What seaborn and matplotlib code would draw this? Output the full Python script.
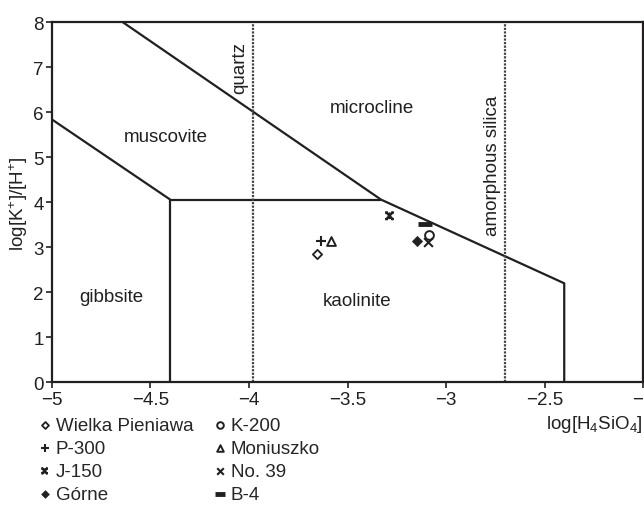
import matplotlib
matplotlib.use("Agg")
import matplotlib.pyplot as plt
from matplotlib.path import Path
import seaborn as sns
import pandas as pd

# muestras: log[H4SiO4], log[K+]/[H+]
muestras = ['Wielka Pieniawa', 'P-300', 'J-150', 'Górne', 'K-200', 'Moniuszko', 'No. 39', 'B-4']
log_si = [-3.653, -3.633, -3.287, -3.146, -3.088, -3.582, -3.093, -3.106]
log_k = [2.84, 3.13, 3.70, 3.13, 3.27, 3.15, 3.12, 3.52]

# límites de estabilidad
gib_kao_x = [-4.4, -4.4]
gib_kao_y = [0, 4.06]
mus_kao_x = [-4.4, -3.33]
mus_kao_y = [4.06, 4.06]
gib_mus_x = [-5.0, -4.4]
gib_mus_y = [5.84, 4.06]
mus_mic_x = [-4.64, -3.33]
mus_mic_y = [8.0, 4.06]
kao_mic_x = [-3.33, -2.40, -2.40]
kao_mic_y = [4.06, 2.2, 0.0]
cuarzo = -3.98
silice_amorfa = -2.70

minerales = ['muscovite', 'microcline', 'gibbsite', 'kaolinite']
min_x = [-4.42, -3.376, -4.70, -3.45]
min_y = [5.47, 6.11, 1.90, 1.81]

df = pd.DataFrame({'muestra': muestras, 'x': log_si, 'y': log_k})

sns.set_style('white')
plt.rcParams['font.family'] = ['Liberation Sans', 'DejaVu Sans']
plt.rcParams['mathtext.fontset'] = 'custom'
plt.rcParams['mathtext.rm'] = 'Liberation Sans'
plt.rcParams['mathtext.it'] = 'Liberation Sans'

negro = '#231f20'
fs = 13.5

# marcador tipo "ж" para J-150
zh = Path([(-1, -1), (1, 1), (-1, 1), (1, -1), (0, -1), (0, 1),
           (-1.3, 1), (-0.5, 1), (0.5, 1), (1.3, 1), (-1.3, -1), (-0.5, -1), (0.5, -1), (1.3, -1)],
          [Path.MOVETO, Path.LINETO] * 7)

fig = plt.figure(figsize=(6.44, 5.06), dpi=100)
ax = fig.add_axes([0.0807, 0.2425, 0.9178, 0.7115])

lw = 1.6
for xs, ys in [(gib_kao_x, gib_kao_y), (mus_kao_x, mus_kao_y), (gib_mus_x, gib_mus_y),
               (mus_mic_x, mus_mic_y), (kao_mic_x, kao_mic_y)]:
    ax.plot(xs, ys, color=negro, lw=lw, solid_capstyle='butt')
ax.axvline(cuarzo, color='#444444', lw=1.6, ls=(0, (1, 0.6)))
ax.axvline(silice_amorfa, color='#444444', lw=1.6, ls=(0, (1, 0.6)))

estilos = {
    'Wielka Pieniawa': dict(marker='D', s=22, facecolor='white', edgecolor=negro, linewidth=1.3),
    'P-300': dict(marker='+', s=50, color=negro, linewidth=1.5),
    'J-150': dict(marker=zh, s=40, facecolor='none', edgecolor=negro, linewidth=1.6),
    'Górne': dict(marker='D', s=28, color=negro, edgecolor=negro),
    'K-200': dict(marker='o', s=40, facecolor='white', edgecolor=negro, linewidth=1.4),
    'Moniuszko': dict(marker='^', s=40, facecolor='white', edgecolor=negro, linewidth=1.4),
    'No. 39': dict(marker='x', s=40, color=negro, linewidth=1.5),
    'B-4': dict(marker='_', s=90, color=negro, linewidth=3.5),
}
for m in muestras:
    sns.scatterplot(data=df[df['muestra'] == m], x='x', y='y', ax=ax, label=m,
                    zorder=3, **estilos[m])

for t, x, y in zip(minerales, min_x, min_y):
    ax.text(x, y, t, fontsize=fs, ha='center', va='center', color=negro)
ax.text(-4.047, 7.0, 'quartz', fontsize=fs, rotation=90, ha='center', va='center', color=negro)
ax.text(-2.765, 4.83, 'amorphous silica', fontsize=fs, rotation=90, ha='center', va='center', color=negro)

ax.set_xlim(-5, -2)
ax.set_ylim(0, 8)
ax.set_xticks([-5, -4.5, -4, -3.5, -3, -2.5, -2])
ax.set_xticklabels(['\u22125', '\u22124.5', '\u22124', '\u22123.5', '\u22123', '\u22122.5', '\u22122'])
ax.set_yticks(range(0, 9))
ax.tick_params(axis='both', direction='out', length=4, width=1.2, color=negro,
               labelsize=fs, labelcolor=negro, pad=2, left=True, bottom=True)
for sp in ax.spines.values():
    sp.set_color(negro)
    sp.set_linewidth(1.6)

ax.set_ylabel('log[K$^{+}$]/[H$^{+}$]', fontsize=fs, color=negro, labelpad=2)
ax.set_xlabel('log[H$_4$SiO$_4$]', fontsize=fs, color=negro, loc='right', labelpad=4)

h, l = ax.get_legend_handles_labels()
ax.get_legend().remove()
fig.legend(h, l, loc='upper left', bbox_to_anchor=(0.0605, 0.175), ncol=2, frameon=False,
           fontsize=fs, handlelength=0.6, handletextpad=0.3, columnspacing=1.1,
           labelspacing=0.32, markerscale=0.75, borderpad=0, borderaxespad=0)

fig.savefig('out.png', dpi=100)
